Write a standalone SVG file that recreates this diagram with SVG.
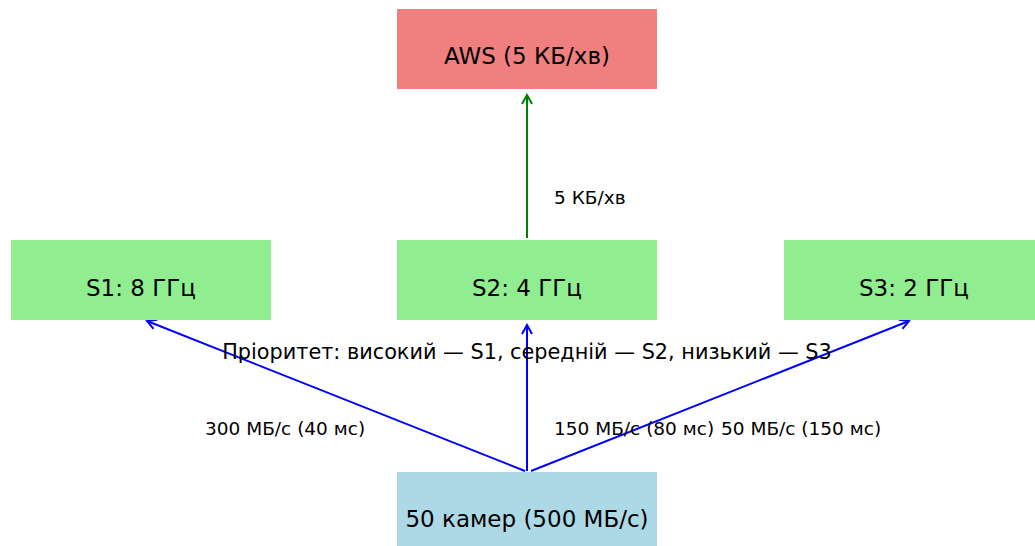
<svg xmlns="http://www.w3.org/2000/svg" width="1035" height="546" viewBox="0 0 1035 546">
<style>
text{font-family:"DejaVu Sans",sans-serif;fill:#000}
.box{font-size:23px;text-anchor:middle}
.pri{font-size:20.8px;text-anchor:middle}
.lbl{font-size:18.5px}
.b{stroke:#0000ff;stroke-width:2;fill:none}
.g{stroke:#008000;stroke-width:2;fill:none}
</style>
<defs>
<marker id="ab" markerWidth="12" markerHeight="12" refX="10" refY="6" orient="auto" markerUnits="userSpaceOnUse"><path d="M1,1 L10,6 L1,11" fill="none" stroke="#0000ff" stroke-width="2"/></marker>
<marker id="ag" markerWidth="12" markerHeight="12" refX="10" refY="6" orient="auto" markerUnits="userSpaceOnUse"><path d="M1,1 L10,6 L1,11" fill="none" stroke="#008000" stroke-width="2"/></marker>
</defs>
<rect width="1035" height="546" fill="#fff"/>
<g id="connectors">
<line class="g" x1="527" y1="238" x2="527" y2="95" marker-end="url(#ag)"/>
<line class="b" x1="525" y1="471" x2="147" y2="321" marker-end="url(#ab)"/>
<line class="b" x1="527" y1="471" x2="527" y2="325" marker-end="url(#ab)"/>
<line class="b" x1="531" y1="471" x2="909" y2="321" marker-end="url(#ab)"/>
</g>
<g id="aws"><rect x="397" y="9" width="260" height="80" fill="#f08080"/><text class="box" x="527" y="64">AWS (5 КБ/хв)</text></g>
<g id="s1"><rect x="11" y="240" width="260" height="80" fill="#90ee90"/><text class="box" x="141" y="296">S1: 8 ГГц</text></g>
<g id="s2"><rect x="397" y="240" width="260" height="80" fill="#90ee90"/><text class="box" x="527" y="296">S2: 4 ГГц</text></g>
<g id="s3"><rect x="784" y="240" width="260" height="80" fill="#90ee90"/><text class="box" x="914" y="296">S3: 2 ГГц</text></g>
<g id="cams"><rect x="397" y="472" width="260" height="80" fill="#add8e6"/><text class="box" x="527" y="527">50 камер (500 МБ/с)</text></g>
<g id="labels">
<text class="lbl" x="554" y="204">5 КБ/хв</text>
<text class="lbl" x="205" y="435">300 МБ/с (40 мс)</text>
<text class="lbl" x="554" y="435">150 МБ/с (80 мс)</text>
<text class="lbl" x="721" y="435">50 МБ/с (150 мс)</text>
<text class="pri" x="527" y="359">Пріоритет: високий — S1, середній — S2, низький — S3</text>
</g>
</svg>
